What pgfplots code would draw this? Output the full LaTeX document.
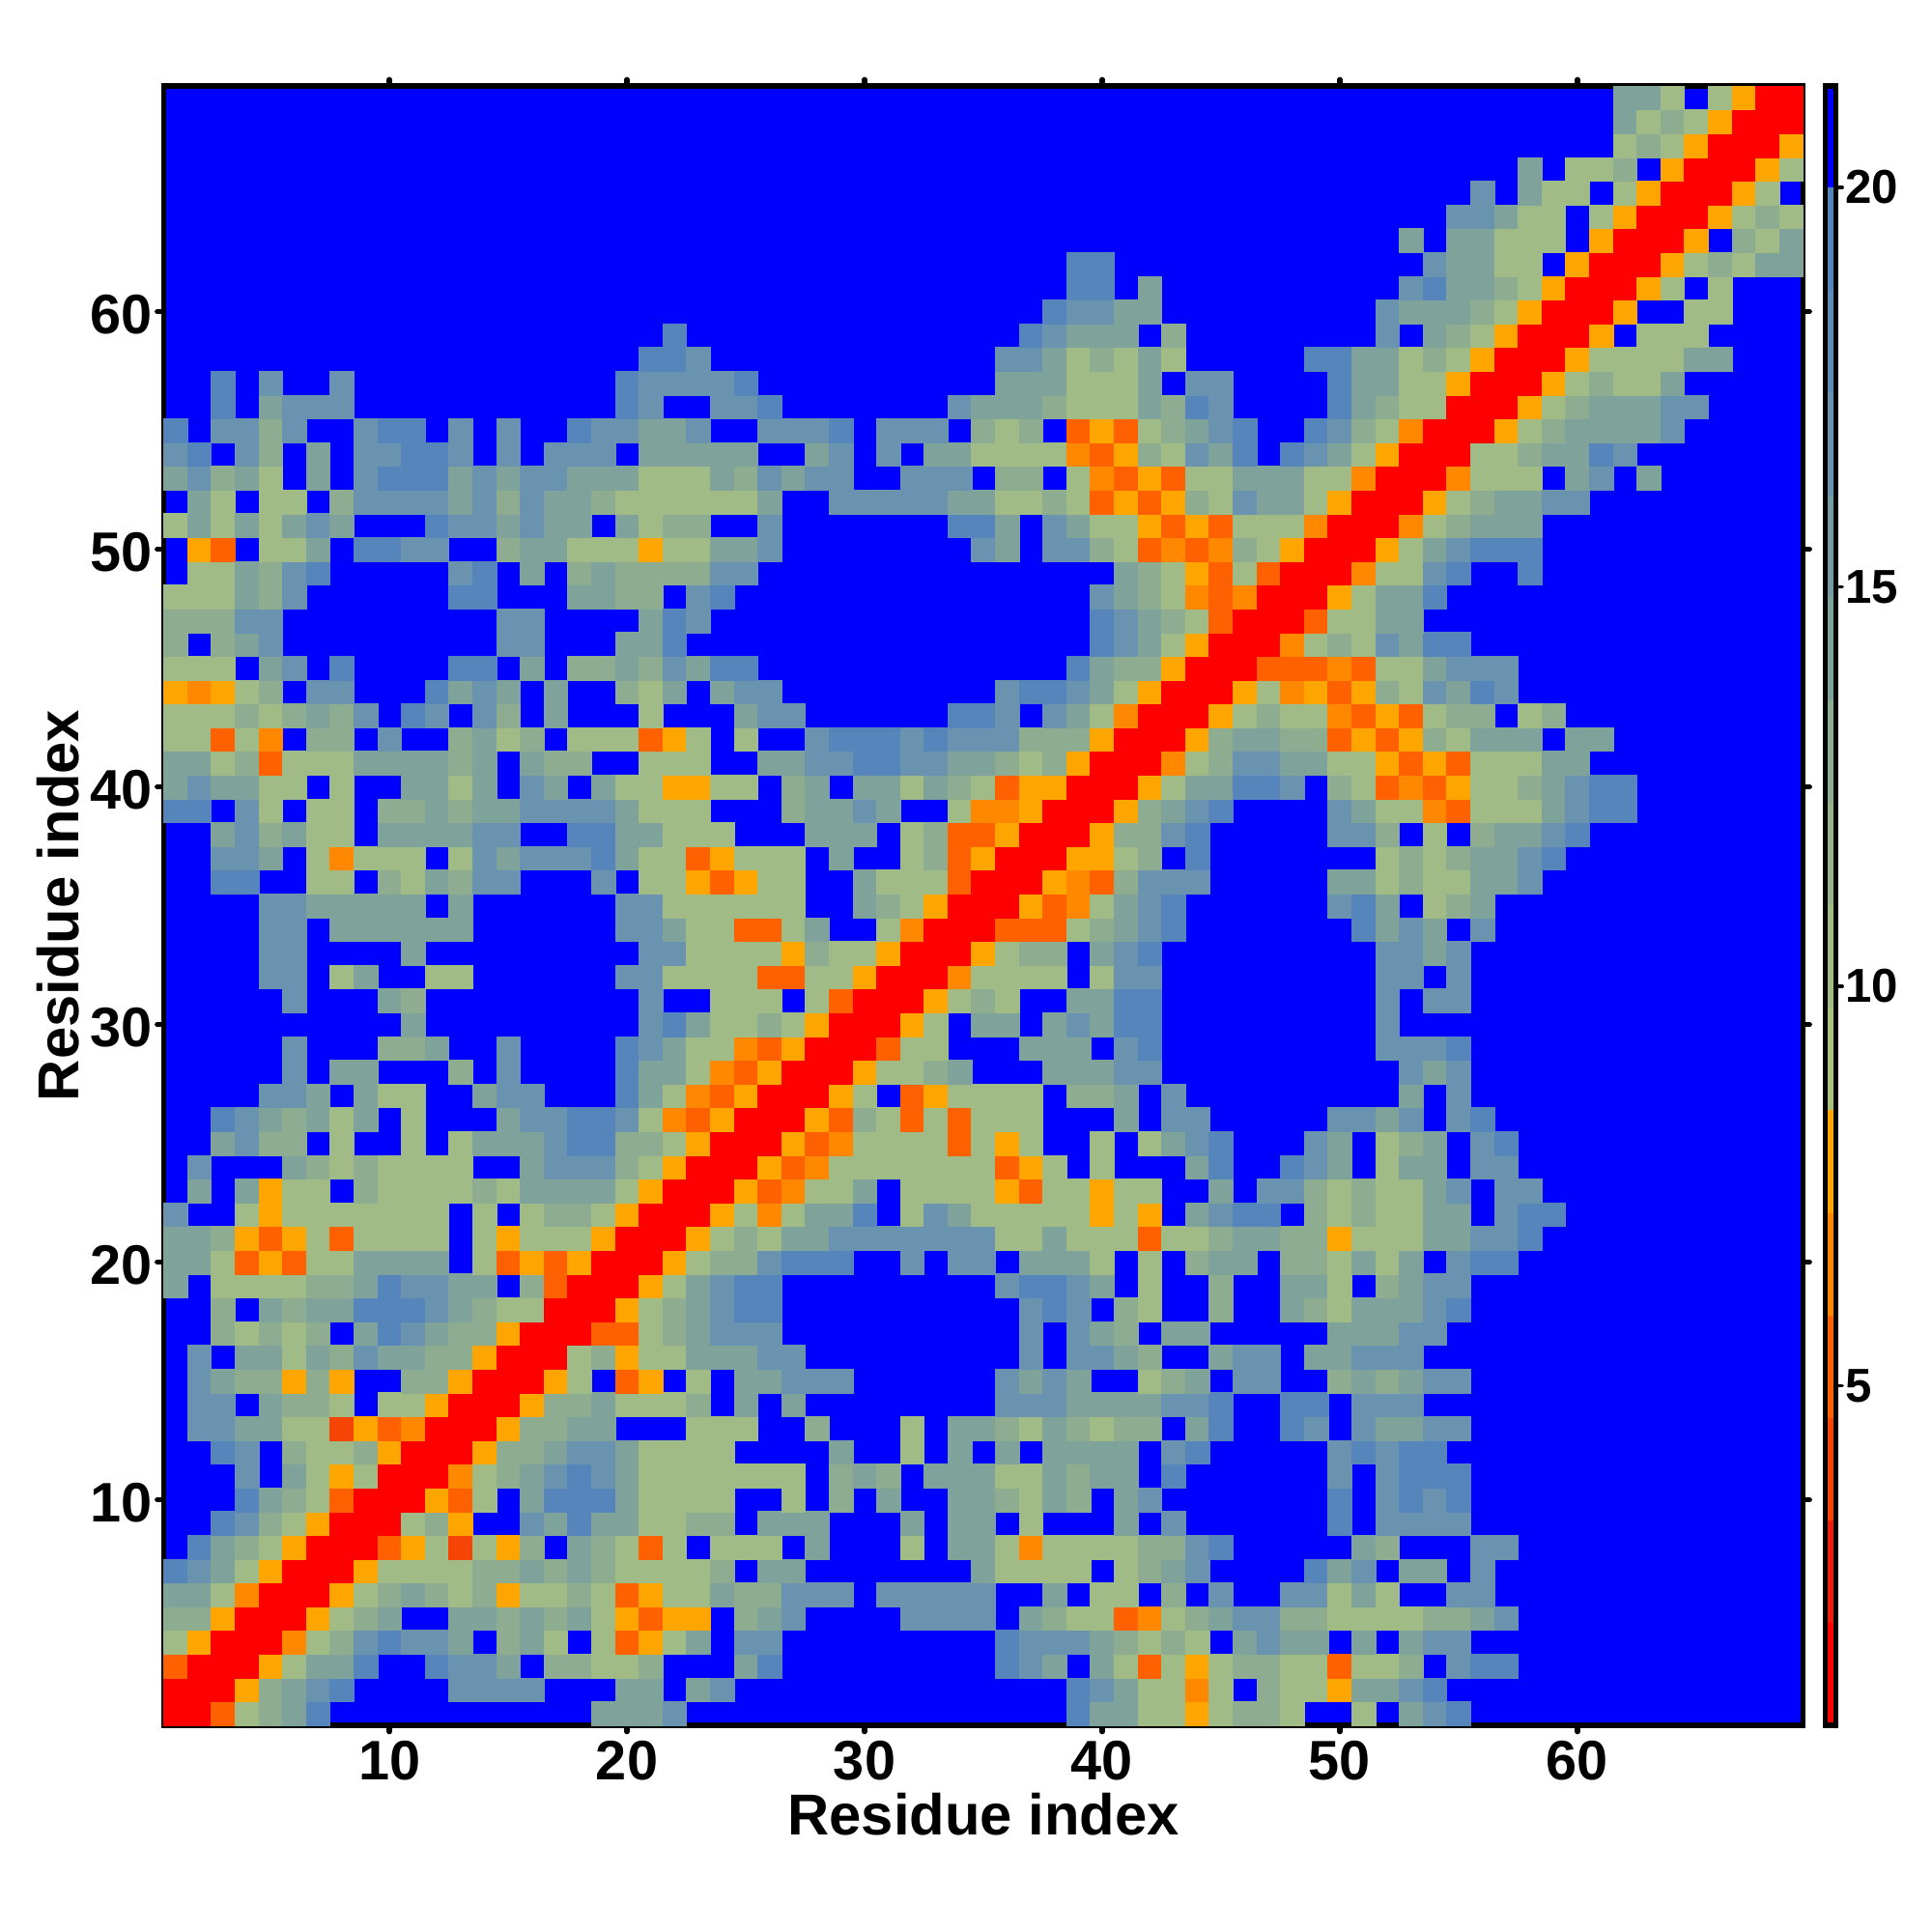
\documentclass[border=0pt]{standalone}
\usepackage{fontspec}
\setmainfont{Liberation Sans}
\usepackage{pgfplots}
\usepackage{pgfplotstable}
\pgfplotsset{compat=1.18}
\definecolor{k1}{RGB}{255,0,0}
\definecolor{k2}{RGB}{238,30,12}
\definecolor{k3}{RGB}{245,68,5}
\definecolor{k4}{RGB}{255,96,0}
\definecolor{k5}{RGB}{255,136,0}
\definecolor{k6}{RGB}{255,165,0}
\definecolor{g0}{RGB}{168,192,128}
\definecolor{g1}{RGB}{160,187,133}
\definecolor{g2}{RGB}{150,178,139}
\definecolor{g3}{RGB}{142,172,143}
\definecolor{g4}{RGB}{127,162,155}
\definecolor{g5}{RGB}{118,155,163}
\definecolor{g6}{RGB}{106,147,175}
\definecolor{g7}{RGB}{95,140,181}
\definecolor{g8}{RGB}{85,133,187}
\definecolor{bl}{RGB}{0,0,255}
\newcommand{\bigf}{\bfseries\fontsize{16.4}{16.4}\selectfont}
\newcommand{\labf}{\bfseries\fontsize{17}{17}\selectfont}
\pgfplotstableread{
x y c
1 1 1
2 1 1
3 1 5
4 1 10
5 1 13
6 1 14
7 1 19
19 1 14
20 1 14
21 1 14
22 1 17
39 1 19
40 1 14
41 1 14
42 1 10
43 1 10
44 1 8
45 1 10
46 1 13
47 1 13
48 1 10
51 1 10
53 1 14
54 1 17
55 1 19
2 2 1
3 2 1
4 2 8
5 2 13
6 2 14
7 2 17
8 2 19
13 2 17
14 2 17
15 2 17
16 2 17
20 2 14
21 2 14
23 2 14
24 2 17
39 2 19
40 2 17
41 2 14
42 2 10
43 2 10
44 2 6
45 2 10
47 2 13
48 2 10
49 2 10
50 2 8
51 2 14
52 2 14
53 2 17
54 2 19
3 3 1
4 3 1
5 3 8
6 3 10
7 3 14
8 3 14
9 3 19
12 3 19
13 3 17
14 3 17
15 3 14
17 3 13
18 3 13
19 3 10
20 3 10
21 3 13
25 3 14
26 3 19
36 3 19
37 3 17
38 3 14
40 3 14
41 3 10
42 3 5
43 3 10
44 3 8
45 3 10
46 3 13
47 3 13
48 3 10
49 3 10
50 3 5
51 3 10
52 3 10
53 3 13
55 3 17
56 3 19
57 3 19
4 4 1
5 4 1
6 4 6
7 4 10
8 4 13
9 4 17
10 4 19
11 4 17
12 4 17
13 4 14
15 4 13
16 4 14
17 4 10
19 4 10
20 4 5
21 4 8
22 4 10
23 4 14
25 4 17
26 4 17
36 4 19
37 4 17
38 4 17
39 4 17
40 4 14
41 4 13
42 4 10
43 4 13
44 4 10
46 4 14
47 4 17
48 4 14
49 4 14
51 4 14
53 4 14
54 4 17
55 4 17
5 5 1
6 5 1
7 5 8
8 5 10
9 5 13
10 5 14
13 5 14
14 5 14
15 5 13
16 5 14
17 5 13
18 5 14
19 5 10
20 5 8
21 5 5
22 5 8
23 5 8
25 5 13
26 5 14
27 5 17
32 5 17
33 5 17
34 5 17
35 5 17
37 5 14
38 5 13
39 5 10
40 5 10
41 5 5
42 5 6
43 5 10
44 5 13
45 5 14
46 5 17
47 5 17
48 5 13
49 5 13
50 5 10
51 5 10
52 5 10
53 5 10
54 5 13
55 5 13
56 5 14
57 5 17
6 6 1
7 6 1
8 6 8
9 6 10
10 6 13
11 6 14
12 6 13
13 6 10
14 6 13
15 6 8
16 6 10
17 6 10
18 6 13
19 6 10
20 6 5
21 6 8
22 6 10
23 6 10
24 6 14
25 6 13
26 6 13
27 6 17
28 6 17
29 6 17
31 6 17
32 6 17
33 6 17
34 6 17
35 6 17
38 6 14
40 6 10
41 6 10
43 6 13
45 6 17
48 6 17
49 6 17
50 6 10
51 6 14
52 6 10
55 6 17
56 6 17
7 7 1
8 7 1
9 7 8
10 7 10
11 7 10
12 7 10
13 7 10
14 7 13
15 7 13
16 7 14
17 7 13
18 7 14
19 7 13
20 7 10
21 7 10
22 7 10
23 7 10
24 7 13
26 7 14
27 7 14
35 7 14
36 7 10
37 7 10
38 7 10
39 7 10
41 7 10
42 7 13
43 7 14
44 7 17
49 7 19
50 7 14
51 7 17
53 7 14
54 7 14
56 7 17
8 8 1
9 8 1
10 8 5
11 8 8
12 8 10
13 8 4
14 8 10
15 8 8
16 8 13
18 8 14
19 8 13
20 8 10
21 8 5
22 8 10
24 8 10
25 8 10
26 8 10
28 8 14
32 8 10
34 8 14
35 8 14
36 8 10
37 8 6
38 8 10
39 8 10
40 8 10
41 8 10
42 8 13
43 8 13
44 8 17
45 8 19
51 8 14
52 8 13
56 8 17
57 8 17
9 9 1
10 9 1
11 9 10
12 9 13
13 9 8
16 9 17
17 9 14
18 9 19
19 9 14
20 9 14
21 9 10
22 9 10
23 9 13
24 9 13
26 9 14
27 9 14
28 9 14
32 9 14
34 9 14
35 9 14
37 9 10
41 9 14
43 9 17
50 9 19
52 9 17
53 9 17
54 9 17
55 9 17
10 10 1
11 10 1
12 10 8
13 10 5
14 10 10
16 10 14
17 10 19
18 10 19
19 10 19
20 10 14
21 10 10
22 10 10
23 10 10
24 10 10
27 10 10
29 10 13
31 10 14
34 10 14
35 10 14
36 10 13
37 10 10
38 10 14
39 10 13
41 10 14
42 10 17
50 10 19
52 10 17
53 10 19
54 10 17
55 10 19
11 11 1
12 11 1
13 11 6
14 11 10
15 11 13
16 11 14
17 11 17
18 11 19
19 11 17
20 11 14
21 11 10
22 11 10
23 11 10
24 11 10
25 11 10
26 11 10
27 11 10
29 11 13
30 11 14
31 11 13
33 11 14
34 11 14
35 11 14
36 11 10
37 11 10
38 11 14
39 11 13
40 11 14
41 11 14
43 11 19
50 11 17
52 11 17
53 11 19
54 11 19
55 11 19
12 12 1
13 12 1
14 12 8
15 12 13
16 12 13
17 12 14
18 12 17
19 12 17
20 12 14
21 12 10
22 12 10
23 12 10
24 12 10
29 12 14
32 12 10
34 12 14
36 12 14
38 12 14
39 12 14
40 12 14
41 12 14
43 12 17
44 12 19
50 12 17
51 12 19
52 12 17
53 12 19
54 12 19
13 13 1
14 13 1
15 13 8
16 13 13
17 13 13
18 13 14
19 13 14
23 13 10
24 13 10
25 13 10
28 13 13
32 13 10
34 13 14
35 13 14
36 13 13
37 13 10
38 13 14
39 13 13
40 13 10
41 13 13
42 13 13
44 13 14
45 13 19
48 13 19
49 13 17
51 13 17
52 13 14
53 13 14
54 13 17
55 13 17
14 14 1
15 14 1
16 14 8
17 14 13
18 14 13
19 14 14
20 14 10
21 14 10
22 14 10
23 14 13
25 14 14
27 14 14
36 14 17
37 14 17
38 14 17
39 14 14
40 14 14
41 14 14
42 14 14
43 14 17
44 14 17
45 14 19
48 14 19
49 14 19
51 14 17
52 14 17
53 14 17
15 15 1
16 15 1
17 15 8
18 15 10
20 15 5
21 15 8
23 15 10
25 15 14
26 15 14
27 15 17
28 15 17
29 15 17
36 15 17
37 15 14
38 15 17
39 15 14
42 15 10
43 15 13
44 15 14
46 15 17
47 15 17
50 15 13
51 15 14
52 15 13
53 15 14
54 15 17
55 15 17
16 16 1
17 16 1
18 16 10
19 16 13
20 16 8
21 16 10
22 16 10
23 16 14
24 16 14
25 16 14
26 16 17
27 16 17
37 16 17
39 16 17
40 16 17
41 16 14
42 16 13
45 16 14
46 16 17
47 16 17
49 16 14
50 16 14
51 16 17
52 16 17
53 16 17
17 17 1
18 17 1
19 17 5
20 17 5
21 17 10
22 17 13
23 17 14
24 17 17
25 17 17
26 17 17
37 17 17
39 17 17
40 17 14
41 17 13
43 17 14
44 17 14
50 17 14
51 17 14
52 17 14
53 17 17
54 17 17
18 18 1
19 18 1
20 18 8
21 18 10
22 18 13
23 18 14
24 18 17
25 18 19
26 18 19
37 18 17
38 18 19
39 18 17
41 18 13
42 18 10
45 18 13
48 18 14
49 18 13
50 18 10
51 18 14
52 18 14
53 18 14
54 18 17
55 18 19
19 19 1
20 19 1
21 19 8
22 19 10
23 19 14
24 19 17
25 19 19
26 19 19
36 19 17
37 19 19
38 19 19
39 19 17
40 19 14
42 19 10
45 19 13
48 19 14
49 19 14
50 19 10
52 19 13
53 19 14
54 19 17
55 19 17
20 20 1
21 20 1
22 20 8
23 20 10
24 20 13
25 20 13
26 20 17
27 20 19
28 20 19
29 20 19
32 20 17
34 20 17
35 20 17
37 20 14
38 20 14
39 20 14
40 20 10
42 20 10
44 20 13
45 20 14
46 20 14
48 20 13
49 20 13
50 20 10
51 20 14
52 20 10
53 20 14
55 20 17
56 20 19
57 20 19
21 21 1
22 21 1
23 21 8
24 21 10
25 21 13
26 21 10
27 21 14
28 21 14
29 21 17
30 21 17
31 21 17
32 21 17
33 21 17
34 21 17
35 21 17
36 21 10
37 21 10
38 21 14
39 21 10
40 21 10
41 21 10
42 21 5
43 21 10
44 21 10
45 21 13
46 21 14
47 21 14
48 21 13
49 21 13
50 21 8
51 21 10
52 21 10
53 21 10
54 21 14
55 21 14
56 21 17
57 21 17
58 21 19
22 22 1
23 22 1
24 22 8
25 22 10
26 22 6
27 22 10
28 22 14
29 22 14
30 22 19
32 22 10
33 22 17
34 22 14
35 22 10
36 22 10
37 22 10
38 22 10
39 22 10
40 22 8
41 22 10
42 22 8
44 22 14
45 22 17
46 22 19
47 22 19
49 22 13
50 22 10
51 22 13
52 22 10
53 22 10
54 22 14
55 22 14
57 22 17
58 22 19
59 22 19
23 23 1
24 23 1
25 23 8
26 23 5
27 23 6
28 23 10
29 23 10
30 23 14
32 23 10
33 23 10
34 23 10
35 23 10
36 23 8
37 23 5
38 23 10
39 23 10
40 23 8
41 23 10
42 23 10
45 23 14
47 23 17
48 23 17
49 23 13
50 23 10
51 23 13
52 23 10
53 23 10
54 23 14
55 23 17
57 23 17
58 23 17
24 24 1
25 24 1
26 24 8
27 24 5
28 24 6
29 24 10
30 24 10
31 24 10
32 24 10
33 24 10
34 24 10
35 24 10
36 24 5
37 24 8
38 24 10
40 24 10
44 24 14
45 24 19
48 24 19
49 24 17
50 24 14
52 24 10
53 24 14
54 24 14
56 24 17
57 24 17
25 25 1
26 25 1
27 25 8
28 25 5
29 25 6
30 25 10
31 25 10
32 25 10
33 25 10
34 25 5
35 25 10
36 25 8
37 25 10
40 25 10
42 25 10
43 25 14
44 25 17
45 25 19
49 25 17
50 25 14
52 25 10
53 25 13
54 25 14
56 25 17
57 25 19
26 26 1
27 26 1
28 26 8
29 26 5
30 26 13
31 26 10
32 26 5
33 26 10
34 26 5
35 26 10
36 26 10
37 26 10
41 26 14
43 26 17
44 26 17
50 26 17
51 26 17
52 26 14
53 26 17
55 26 17
56 26 19
27 27 1
28 27 1
29 27 8
30 27 10
32 27 5
33 27 8
34 27 10
35 27 10
36 27 10
37 27 10
39 27 13
40 27 13
41 27 14
43 27 17
53 27 14
55 27 17
28 28 1
29 28 1
30 28 8
31 28 10
32 28 10
33 28 13
34 28 14
38 28 14
39 28 14
40 28 14
41 28 17
42 28 17
53 28 17
54 28 14
55 28 17
29 29 1
30 29 1
31 29 5
32 29 10
33 29 10
37 29 14
38 29 14
39 29 14
41 29 17
42 29 19
52 29 17
53 29 17
54 29 17
55 29 19
30 30 1
31 30 1
32 30 8
33 30 10
35 30 14
36 30 14
38 30 14
39 30 17
40 30 14
41 30 19
42 30 19
52 30 17
31 31 1
32 31 1
33 31 8
34 31 10
35 31 13
36 31 10
39 31 14
40 31 14
41 31 19
42 31 19
52 31 17
54 31 17
55 31 17
32 32 1
33 32 1
34 32 6
35 32 10
36 32 10
37 32 10
38 32 10
40 32 10
41 32 17
42 32 17
52 32 17
53 32 17
55 32 17
33 33 1
34 33 1
35 33 8
36 33 10
37 33 13
38 33 13
40 33 14
41 33 17
42 33 19
52 33 17
53 33 17
54 33 14
55 33 17
34 34 1
35 34 1
36 34 5
37 34 5
38 34 5
39 34 10
40 34 13
41 34 14
42 34 17
43 34 19
51 34 19
52 34 14
53 34 17
54 34 14
56 34 17
35 35 1
36 35 1
37 35 8
38 35 5
39 35 6
40 35 10
41 35 14
42 35 17
43 35 19
50 35 17
51 35 19
52 35 14
54 35 10
55 35 13
56 35 14
36 36 1
37 36 1
38 36 8
39 36 6
40 36 5
41 36 13
42 36 17
43 36 17
44 36 17
50 36 14
51 36 14
52 36 10
53 36 13
54 36 10
55 36 10
56 36 14
57 36 14
58 36 17
37 37 1
38 37 1
39 37 8
40 37 8
41 37 10
42 37 13
44 37 19
52 37 10
53 37 13
54 37 10
55 37 13
56 37 14
57 37 14
58 37 17
59 37 19
38 38 1
39 38 1
40 38 8
41 38 13
42 38 13
43 38 17
44 38 19
50 38 17
51 38 17
52 38 13
54 38 10
56 38 13
57 38 14
58 38 14
59 38 17
60 38 19
39 39 1
40 39 1
41 39 8
42 39 13
43 39 14
44 39 17
45 39 19
50 39 17
51 39 14
52 39 10
53 39 10
54 39 6
55 39 5
56 39 10
57 39 10
58 39 10
59 39 14
60 39 17
61 39 19
62 39 19
40 40 1
41 40 1
42 40 8
43 40 10
44 40 14
45 40 14
46 40 19
47 40 19
48 40 17
50 40 13
51 40 10
52 40 5
53 40 6
54 40 5
55 40 8
56 40 10
57 40 10
58 40 13
59 40 14
60 40 17
61 40 19
62 40 19
41 41 1
42 41 1
43 41 6
44 41 10
45 41 13
46 41 17
47 41 17
48 41 14
49 41 14
50 41 10
51 41 10
52 41 8
53 41 5
54 41 8
55 41 5
56 41 10
57 41 10
58 41 10
59 41 14
60 41 14
42 42 1
43 42 1
44 42 8
45 42 13
46 42 14
47 42 14
48 42 13
49 42 13
50 42 5
51 42 8
52 42 5
53 42 8
54 42 13
55 42 10
56 42 14
57 42 14
58 42 14
60 42 14
61 42 14
43 43 1
44 43 1
45 43 8
46 43 10
47 43 13
48 43 10
49 43 10
50 43 6
51 43 5
52 43 8
53 43 5
54 43 10
55 43 13
56 43 13
58 43 10
59 43 13
44 44 1
45 44 1
46 44 8
47 44 10
48 44 6
49 44 8
50 44 5
51 44 8
52 44 13
53 44 10
54 44 17
55 44 14
56 44 19
57 44 17
45 45 1
46 45 1
47 45 5
48 45 5
49 45 5
50 45 6
51 45 5
52 45 10
53 45 10
54 45 14
55 45 17
56 45 17
57 45 17
46 46 1
47 46 1
48 46 6
49 46 10
50 46 13
51 46 10
52 46 17
53 46 14
54 46 19
55 46 19
47 47 1
48 47 1
49 47 5
50 47 10
51 47 10
52 47 14
53 47 14
48 48 1
49 48 1
50 48 8
51 48 10
52 48 14
53 48 14
54 48 19
49 49 1
50 49 1
51 49 6
52 49 10
53 49 10
54 49 17
55 49 19
58 49 19
50 50 1
51 50 1
52 50 8
53 50 10
54 50 14
55 50 17
56 50 19
57 50 19
58 50 19
51 51 1
52 51 1
53 51 6
54 51 10
55 51 13
56 51 14
57 51 14
58 51 14
52 52 1
53 52 1
54 52 8
55 52 10
56 52 13
57 52 14
58 52 14
59 52 17
60 52 17
53 53 1
54 53 1
55 53 6
56 53 10
57 53 10
58 53 10
60 53 14
61 53 17
63 53 14
54 54 1
55 54 1
56 54 10
57 54 10
58 54 13
59 54 14
60 54 14
61 54 19
62 54 17
55 55 1
56 55 1
57 55 8
58 55 10
59 55 13
60 55 14
61 55 14
62 55 14
63 55 14
64 55 17
56 56 1
57 56 1
58 56 8
59 56 10
60 56 13
61 56 14
62 56 14
63 56 14
64 56 17
65 56 17
57 57 1
58 57 1
59 57 8
60 57 10
61 57 13
62 57 10
63 57 10
64 57 14
58 58 1
59 58 1
60 58 8
61 58 10
62 58 10
63 58 10
64 58 10
65 58 14
66 58 14
59 59 1
60 59 1
61 59 8
63 59 10
64 59 10
65 59 10
60 60 1
61 60 1
62 60 8
65 60 10
66 60 10
61 61 1
62 61 1
63 61 8
64 61 10
66 61 10
62 62 1
63 62 1
64 62 8
65 62 10
66 62 13
67 62 10
68 62 14
69 62 14
63 63 1
64 63 1
65 63 8
67 63 13
68 63 10
69 63 14
64 64 1
65 64 1
66 64 8
67 64 10
68 64 13
69 64 10
65 65 1
66 65 1
67 65 8
68 65 10
66 66 1
67 66 1
68 66 8
69 66 10
67 67 1
68 67 1
69 67 8
68 68 1
69 68 1
69 69 1
}\cells
\pgfplotsset{
  cellstyle/.style={
    only marks, scatter, scatter src=explicit symbolic,
    mark size=1.233mm, line width=0.1pt,
    scatter/classes={
      1={mark=square*,draw=k1,fill=k1},
      4={mark=square*,draw=k3,fill=k3},
      5={mark=square*,draw=k4,fill=k4},
      6={mark=square*,draw=k5,fill=k5},
      8={mark=square*,draw=k6,fill=k6},
      10={mark=square*,draw=g1,fill=g1},
      13={mark=square*,draw=g3,fill=g3},
      14={mark=square*,draw=g4,fill=g4},
      17={mark=square*,draw=g6,fill=g6},
      19={mark=square*,draw=g8,fill=g8}
    }
  }
}
\begin{document}
\begin{tikzpicture}[x=1cm,y=1cm]
\path[use as bounding box] (0,0) rectangle (20,20);
\begin{axis}[
  at={(1.694cm,2.14cm)}, anchor=south west,
  scale only axis, width=16.972cm, height=16.97cm,
  xmin=0.5, xmax=69.5, ymin=0.5, ymax=69.5,
  xtick={10,20,...,60}, ytick={10,20,...,60},
  tick pos=both, tick align=outside, major tick length=0.65mm,
  tick style={black, line width=1.6pt, line cap=round},
  axis line style={black, line width=1.6pt},
  axis on top,
  axis background/.style={fill=bl},
  /pgf/number format/assume math mode=true,
  ticklabel style={font=\bigf},
  xticklabel style={yshift=0.3mm},
  yticklabel style={xshift=0.67mm, yshift=-0.3mm},
  every axis x label/.style={at={(axis description cs:0.5,-0.0542)},anchor=center},
  every axis y label/.style={at={(axis description cs:-0.0645,0.5)},rotate=90,anchor=center},
  label style={font=\labf},
  xlabel={Residue index}, ylabel={Residue index},
]
\addplot[cellstyle] table[x=x,y=y,meta=c] {\cells};
\addplot[cellstyle] table[x=y,y=x,meta=c] {\cells};
\end{axis}
\begin{axis}[
  at={(18.895cm,2.14cm)}, anchor=south west,
  scale only axis, width=0.111cm, height=16.97cm,
  xmin=0, xmax=1, ymin=0.747, ymax=21.27,
  xtick=\empty, ytick={5,10,15,20},
  ytick pos=right, yticklabel pos=right, tick align=outside, major tick length=0.65mm,
  tick style={black, line width=1pt, line cap=round},
  axis line style={black, line width=1.6pt},
  axis on top,
  /pgf/number format/assume math mode=true,
  yticklabel style={font=\bfseries\fontsize{14}{14}\selectfont, xshift=-0.9mm},
]
\addplot[fill=k1,draw=none] coordinates {(0,0.747)(1,0.747)(1,2.03)(0,2.03)} --cycle;
\addplot[fill=k2,draw=none] coordinates {(0,2.03)(1,2.03)(1,3.313)(0,3.313)} --cycle;
\addplot[fill=k3,draw=none] coordinates {(0,3.313)(1,3.313)(1,4.596)(0,4.596)} --cycle;
\addplot[fill=k4,draw=none] coordinates {(0,4.596)(1,4.596)(1,5.879)(0,5.879)} --cycle;
\addplot[fill=k5,draw=none] coordinates {(0,5.879)(1,5.879)(1,7.162)(0,7.162)} --cycle;
\addplot[fill=k6,draw=none] coordinates {(0,7.162)(1,7.162)(1,8.445)(0,8.445)} --cycle;
\addplot[fill=g0,draw=none] coordinates {(0,8.445)(1,8.445)(1,9.728)(0,9.728)} --cycle;
\addplot[fill=g1,draw=none] coordinates {(0,9.728)(1,9.728)(1,11.011)(0,11.011)} --cycle;
\addplot[fill=g2,draw=none] coordinates {(0,11.011)(1,11.011)(1,12.294)(0,12.294)} --cycle;
\addplot[fill=g3,draw=none] coordinates {(0,12.294)(1,12.294)(1,13.577)(0,13.577)} --cycle;
\addplot[fill=g4,draw=none] coordinates {(0,13.577)(1,13.577)(1,14.86)(0,14.86)} --cycle;
\addplot[fill=g5,draw=none] coordinates {(0,14.86)(1,14.86)(1,16.143)(0,16.143)} --cycle;
\addplot[fill=g6,draw=none] coordinates {(0,16.143)(1,16.143)(1,17.426)(0,17.426)} --cycle;
\addplot[fill=g7,draw=none] coordinates {(0,17.426)(1,17.426)(1,18.709)(0,18.709)} --cycle;
\addplot[fill=g8,draw=none] coordinates {(0,18.709)(1,18.709)(1,20)(0,20)} --cycle;
\addplot[fill=bl,draw=none] coordinates {(0,20)(1,20)(1,21.27)(0,21.27)} --cycle;
\end{axis}
\end{tikzpicture}
\end{document}
